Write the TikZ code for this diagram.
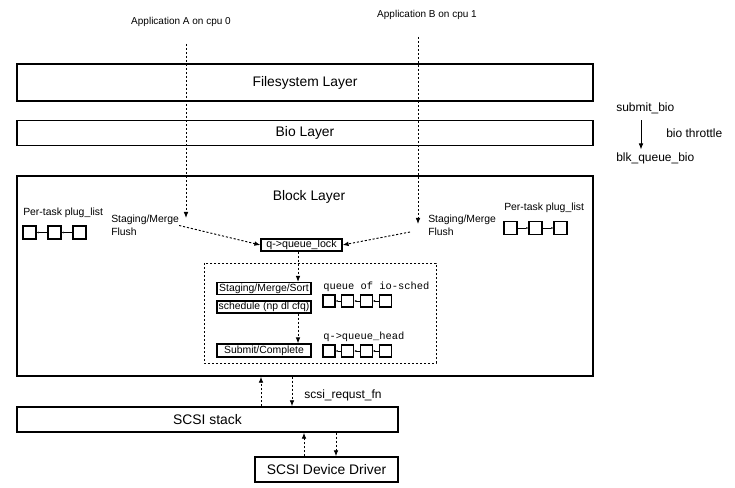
\documentclass[tikz,border=0pt]{standalone}
\usepackage{fontspec}
\setmainfont{Liberation Sans}
\setmonofont{Liberation Mono}
\usetikzlibrary{arrows.meta}
\tikzset{
  layer/.style={draw, line width=1.1pt, inner sep=0pt, font=\fontsize{10.4}{12}\selectfont},
  procbox/.style={draw, line width=0.9pt, inner sep=0pt, minimum width=94*0.75pt,
    minimum height=12*0.75pt, font=\fontsize{7.8}{9}\selectfont},
  lbl/.style={inner sep=0pt, font=\fontsize{7.8}{9.6}\selectfont, align=left},
  sq/.style={draw, line width=0.9pt, inner sep=0pt, minimum size=#1*0.75pt},
  flow/.style={dash pattern=on 1.6pt off 1.4pt, line width=0.7pt, -{Latex[length=4.5pt,width=3.5pt]}},
  link/.style={line width=0.5pt, -{Latex[length=1.6pt,width=1.6pt]}},
}
\begin{document}
\begin{tikzpicture}[x=0.75pt,y=-0.75pt]
\useasboundingbox (0,0) rectangle (735,488);
% applications
\node[lbl, font=\fontsize{7.5}{9}\selectfont] (appA) at (181,22) {Application A on cpu 0};
\node[lbl, font=\fontsize{7.5}{9}\selectfont] (appB) at (427,15) {Application B on cpu 1};
% layers
\node[layer, minimum width=576*0.75pt, minimum height=37*0.75pt] (fs) at (305,82.5) {Filesystem Layer};
\node[layer, minimum width=576*0.75pt, minimum height=25*0.75pt] (bio) at (305,133) {Bio Layer};
\node[layer, minimum width=576*0.75pt, minimum height=200*0.75pt] (block) at (305,276) {};
\node[lbl, font=\fontsize{10.4}{12}\selectfont] (blocktitle) at (309,197) {Block Layer};
\node[layer, minimum width=381*0.75pt, minimum height=25*0.75pt] (scsi) at (207.5,419.5) {SCSI stack};
\node[layer, minimum width=143*0.75pt, minimum height=25*0.75pt] (drv) at (326.5,469.5) {SCSI Device Driver};
% per-task plug lists
\node[lbl, anchor=west] (plugA) at (23,213) {Per-task plug\_list};
\node[lbl, anchor=west] (plugB) at (504,208) {Per-task plug\_list};
\foreach \i/\x in {1/29.5,2/54.5,3/79.5} \node[sq=13] (pa\i) at (\x,232.5) {};
\foreach \i/\x in {1/510.5,2/535.5,3/560.5} \node[sq=13] (pb\i) at (\x,228) {};
\foreach \i/\j in {1/2,2/3} {
  \draw[link] (pa\j) -- (pa\i);
  \draw[link] (pb\i) -- (pb\j);
}
% staging
\node[lbl, anchor=west] (stageA) at (111,225.5) {Staging/Merge\\Flush};
\node[lbl, anchor=west] (stageB) at (428,225.5) {Staging/Merge\\Flush};
\node[procbox, minimum width=81*0.75pt, font=\fontsize{8}{9}\selectfont] (ql) at (301.5,245) {q->queue\_lock};
\coordinate (a0) at (186,44); \coordinate (a1) at (186,218);
\coordinate (b0) at (418,37); \coordinate (b1) at (418,224);
\coordinate (b2) at (410,232);
\draw[flow] (a0) -- (a1);
\draw[flow] (b0) -- (b1);
\draw[flow] (stageA.east) -- (ql.west);
\draw[flow] (b2) -- (ql.east);
% io scheduler
\draw[dash pattern=on 1.6pt off 1.4pt, line width=0.6pt] (204,263) rectangle (436,363);
\node[procbox] (sms) at (264,288.5) {Staging/Merge/Sort};
\node[procbox] (sched) at (264,307) {schedule (np dl cfq)};
\node[procbox, minimum height=13*0.75pt] (submit) at (264,350.5) {Submit/Complete};
\coordinate (mid) at (298,0);
\draw[flow] (ql.south -| mid) -- (sms.north -| mid);
\draw[flow] (sched.south -| mid) -- (submit.north -| mid);
\node[lbl, anchor=west, font=\ttfamily\fontsize{7.8}{9}\selectfont] (iolbl) at (323,287) {queue of io-sched};
\node[lbl, anchor=west, font=\ttfamily\fontsize{7.8}{9}\selectfont] (headlbl) at (323,337) {q->queue\_head};
\foreach \i in {1,...,4} {
  \node[sq=12] (io\i) at ({329+(\i-1)*18.7},301) {};
  \node[sq=12] (hd\i) at ({329+(\i-1)*18.7},351) {};
}
\foreach \i/\j in {1/2,2/3,3/4} {
  \draw[link] (io\j) -- (io\i);
  \draw[link] (hd\j) -- (hd\i);
}
% request path
\coordinate (up1) at (261,0); \coordinate (dn1) at (292,0);
\coordinate (up2) at (304,0); \coordinate (dn2) at (336,0);
\draw[flow] (scsi.north -| up1) -- (block.south -| up1);
\draw[flow] (block.south -| dn1) -- (scsi.north -| dn1);
\node[lbl, anchor=west, font=\fontsize{9}{11}\selectfont] (reqfn) at (304,395) {scsi\_requst\_fn};
\draw[flow] (drv.north -| up2) -- (scsi.south -| up2);
\draw[flow] (scsi.south -| dn2) -- (drv.north -| dn2);
% bio submit path
\node[lbl, anchor=west, font=\fontsize{9}{11}\selectfont] (sbio) at (616,108) {submit\_bio};
\node[lbl, anchor=west, font=\fontsize{9}{11}\selectfont] (thr) at (666,133) {bio throttle};
\node[lbl, anchor=west, font=\fontsize{9}{11}\selectfont] (qbio) at (616,158) {blk\_queue\_bio};
\draw[line width=0.6pt, -{Latex[length=4.5pt,width=3.5pt]}, shorten <=5pt, shorten >=2pt] (sbio.south -| 641,0) -- (qbio.north -| 641,0);
\end{tikzpicture}
\end{document}
